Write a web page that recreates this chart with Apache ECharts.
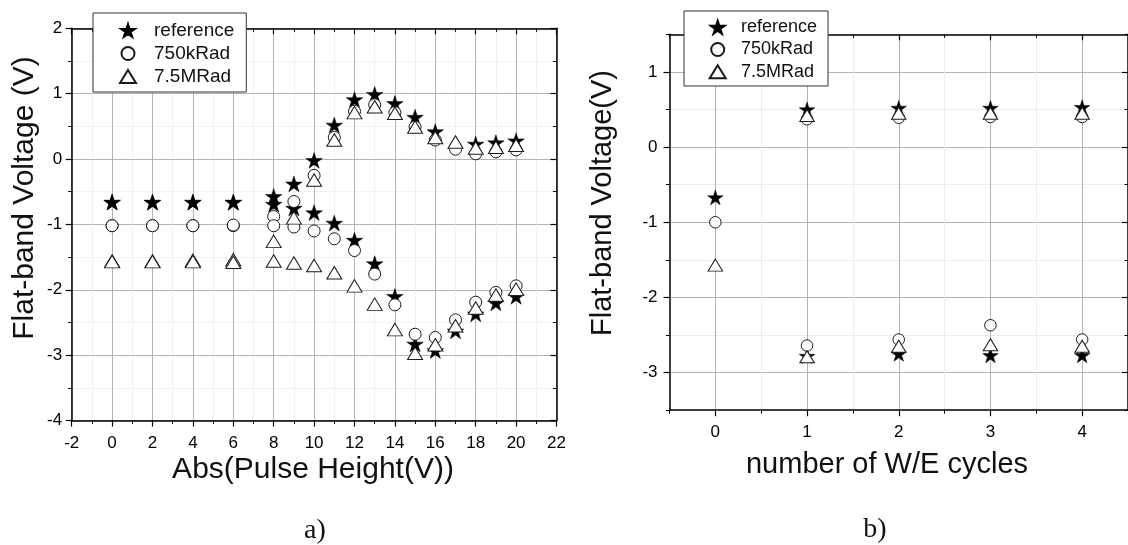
<!DOCTYPE html>
<html>
<head>
<meta charset="utf-8">
<script src="https://cdn.jsdelivr.net/npm/echarts@6/dist/echarts.min.js"></script>
<style>
  html, body { margin: 0; padding: 0; background: #fff; }
  #chart { width: 1128px; height: 545px; }
</style>
</head>
<body>
<div id="chart"></div>
<script>
// ---- Panel a): flat-band voltage vs. |pulse height|, two sweep branches ----
const pulseHeight = [0, 2, 4, 6, 8, 9, 10, 11, 12, 13, 14, 15, 16, 17, 18, 19, 20];

const refUpper   = [-0.66, -0.66, -0.66, -0.66, -0.57, -0.38, -0.02, 0.52, 0.91, 0.99, 0.85, 0.64, 0.42, null, 0.23, 0.25, 0.28];
const refLower   = [-0.66, -0.66, -0.66, -0.66, -0.69, -0.75, -0.82, -0.98, -1.24, -1.60, -2.10, -2.83, -2.93, -2.63, -2.37, -2.20, -2.10];

const k750Upper  = [-1.02, -1.02, -1.02, -1.02, -0.88, -0.65, -0.25, 0.33, 0.73, 0.83, 0.71, 0.49, 0.29, 0.15, 0.08, 0.11, 0.14];
const k750Lower  = [-1.02, -1.02, -1.02, -1.01, -1.02, -1.04, -1.10, -1.22, -1.40, -1.76, -2.23, -2.68, -2.73, -2.46, -2.19, -2.04, -1.94];

const m75Upper   = [-1.56, -1.56, -1.55, -1.54, -1.26, -0.90, -0.32, 0.29, 0.71, 0.80, 0.70, 0.49, 0.33, 0.26, 0.17, 0.18, 0.21];
const m75Lower   = [-1.57, -1.57, -1.57, -1.58, -1.56, -1.59, -1.63, -1.74, -1.94, -2.22, -2.61, -2.97, -2.84, -2.55, -2.28, -2.08, -1.99];

const pulseTicks = { min: -2, max: 22, step: 2 };
const voltTicksA = { min: -4, max: 2, step: 1 };

// ---- Panel b): flat-band voltage vs. number of write/erase cycles ----
const cycles     = [0, 1, 2, 3, 4];
const refWrite   = [-0.67, 0.50, 0.52, 0.52, 0.53];
const refErase   = [null, -2.78, -2.75, -2.77, -2.77];
const k750Write  = [-1.00, 0.37, 0.39, 0.40, 0.40];
const k750Erase  = [null, -2.64, -2.56, -2.37, -2.56];
const m75Write   = [-1.57, 0.42, 0.45, 0.45, 0.45];
const m75Erase   = [null, -2.79, -2.65, -2.63, -2.65];

const cycleTicks = [0, 1, 2, 3, 4];
const voltTicksB = [-3, -2, -1, 0, 1];

const seriesNames = ['reference', '750kRad', '7.5MRad'];

// ---- helpers ----
const FONT = 'Liberation Sans';
const STAR = 'path://M50 0 L61.23 34.55 L97.55 34.55 L68.16 55.9 L79.39 90.45 L50 69.1 L20.61 90.45 L31.84 55.9 L2.45 34.55 L38.77 34.55 Z';
const pairs = (xs, ys) => xs.map((x, i) => [x, ys[i]]).filter(p => p[1] !== null);

const axisLine = { show: true, onZero: false, lineStyle: { color: '#000', width: 1.5 } };
const tickStyle = { color: '#000', width: 1.2 };
const labelStyle = { fontSize: 17, fontFamily: FONT, color: '#000' };

// Panel a axes: regular interval ticks with minor ticks between them
function axisA(pos, range, mirror, margin) {
  return {
    type: 'value', gridIndex: 0, position: pos,
    min: range.min, max: range.max, interval: range.step,
    axisLine: axisLine,
    axisTick: { show: true, inside: mirror, length: 6, lineStyle: tickStyle },
    minorTick: { show: true, splitNumber: 2, length: 3.5, lineStyle: { color: '#000', width: 1 } },
    axisLabel: mirror ? { show: false } :
      Object.assign({ show: true, margin: margin, showMinLabel: true, showMaxLabel: true }, labelStyle),
    splitLine: { show: !mirror, lineStyle: { color: '#b4b4b4', width: 1 } },
    minorSplitLine: { show: !mirror, lineStyle: { color: '#e4e4e4', width: 1, type: 'dotted' } },
    silent: true
  };
}

// Panel b axes: half-unit scale; integer values get long ticks and labels
function axisBMajor(pos, min, max, majors, mirror, margin) {
  return {
    type: 'value', gridIndex: 1, position: pos, min: min, max: max, interval: 0.5,
    axisLine: axisLine,
    axisTick: { show: true, inside: mirror, length: 6, lineStyle: tickStyle, customValues: majors },
    axisLabel: mirror ? { show: false } :
      Object.assign({ show: true, margin: margin, customValues: majors,
        formatter: v => (Number.isInteger(v) ? String(v) : '') }, labelStyle),
    splitLine: { show: false },
    silent: true
  };
}
function axisBMinor(pos, min, max, mirror) {
  return {
    type: 'value', gridIndex: 1, position: pos, min: min, max: max, interval: 0.5,
    axisLine: { show: false, onZero: false },
    axisTick: { show: true, inside: mirror, length: 3.5, lineStyle: { color: '#000', width: 1 } },
    axisLabel: { show: false },
    splitLine: { show: !mirror, lineStyle: { color: ['#ececec', '#b4b4b4'], width: 1 } },
    silent: true
  };
}

const openStyle = { color: '#fff', borderColor: '#1a1a1a', borderWidth: 1, opacity: 1 };
const starStyle = { color: '#000', borderColor: '#000', borderWidth: 0.5, opacity: 1 };

const markerA = {
  'reference': { symbol: STAR, symbolSize: [16.5, 15.7], itemStyle: starStyle },
  '750kRad':   { symbol: 'circle', symbolSize: 12, itemStyle: openStyle },
  '7.5MRad':   { symbol: 'triangle', symbolSize: [15, 12.5], itemStyle: openStyle }
};
const markerB = {
  'reference': { symbol: STAR, symbolSize: [15.5, 14.8], itemStyle: starStyle },
  '750kRad':   { symbol: 'circle', symbolSize: 11.5, itemStyle: openStyle },
  '7.5MRad':   { symbol: 'triangle', symbolSize: [14.5, 12], itemStyle: openStyle }
};

function scatter(name, data, xi, yi, marker) {
  return Object.assign({
    type: 'scatter', name: name, data: data,
    xAxisIndex: xi, yAxisIndex: yi,
    symbolKeepAspect: false, silent: true,
    emphasis: { disabled: true }, animation: false
  }, marker);
}

const panelA = {
  'reference': pairs(pulseHeight, refUpper).concat(pairs(pulseHeight, refLower)),
  '750kRad':   pairs(pulseHeight, k750Upper).concat(pairs(pulseHeight, k750Lower)),
  '7.5MRad':   pairs(pulseHeight, m75Upper).concat(pairs(pulseHeight, m75Lower))
};
const panelB = {
  'reference': pairs(cycles, refWrite).concat(pairs(cycles, refErase)),
  '750kRad':   pairs(cycles, k750Write).concat(pairs(cycles, k750Erase)),
  '7.5MRad':   pairs(cycles, m75Write).concat(pairs(cycles, m75Erase))
};

function legend(left, top, padding, fontSize, textPad, gap) {
  return {
    orient: 'vertical', left: left, top: top, padding: padding,
    itemWidth: 16, itemHeight: 13, itemGap: gap,
    backgroundColor: '#fff', borderColor: '#333', borderWidth: 1, borderRadius: 0,
    selectedMode: false, data: seriesNames,
    textStyle: { fontFamily: FONT, fontSize: fontSize, lineHeight: fontSize, color: '#111', padding: [0, 0, 0, textPad] }
  };
}

function label(text, x, y, size, rotate, family) {
  return {
    type: 'text', x: x, y: y, rotation: rotate ? Math.PI / 2 : 0, silent: true, z: 100,
    style: {
      text: text, x: 0, y: 0, fill: '#111',
      fontSize: size, fontFamily: family || FONT,
      align: 'center', verticalAlign: 'middle',
      textAlign: 'center', textVerticalAlign: 'middle'
    }
  };
}

const chart = echarts.init(document.getElementById('chart'), null, { renderer: 'canvas' });

chart.setOption({
  backgroundColor: '#fff',
  animation: false,
  grid: [
    { left: 71.7, top: 28.3, width: 484.8, height: 392.2, containLabel: false },
    { left: 669.5, top: 34.3, width: 463.6, height: 375.9, containLabel: false }
  ],
  xAxis: [
    axisA('bottom', pulseTicks, false, 14),
    axisA('top', pulseTicks, true),
    axisBMajor('bottom', -0.5, 4.5, cycleTicks, false, 14),
    axisBMinor('bottom', -0.5, 4.5, false),
    axisBMajor('top', -0.5, 4.5, cycleTicks, true),
    axisBMinor('top', -0.5, 4.5, true)
  ],
  yAxis: [
    axisA('left', voltTicksA, false, 9.5),
    axisA('right', voltTicksA, true),
    axisBMajor('left', -3.5, 1.5, voltTicksB, false, 12),
    axisBMinor('left', -3.5, 1.5, false),
    axisBMajor('right', -3.5, 1.5, voltTicksB, true),
    axisBMinor('right', -3.5, 1.5, true)
  ],
  legend: [
    legend(93, 13, [8, 12, 6, 26], 19, 13, 4),
    legend(684, 11, [7.3, 11, 5.3, 24.7], 18, 10.3, 4.2)
  ],
  series: seriesNames.map(n => scatter(n, panelA[n], 0, 0, markerA[n]))
    .concat(seriesNames.map(n => scatter(n, panelB[n], 2, 2, markerB[n]))),
  graphic: [
    label('Flat-band Voltage (V)', 25, 198, 30, true),
    label('Abs(Pulse Height(V))', 313, 470, 30, false),
    label('a)', 315, 531, 28, false, 'Liberation Serif'),
    label('Flat-band Voltage(V)', 603, 203, 29, true),
    label('number of W/E cycles', 887, 465, 29, false),
    label('b)', 875, 530, 28, false, 'Liberation Serif')
  ]
});
</script>
</body>
</html>
